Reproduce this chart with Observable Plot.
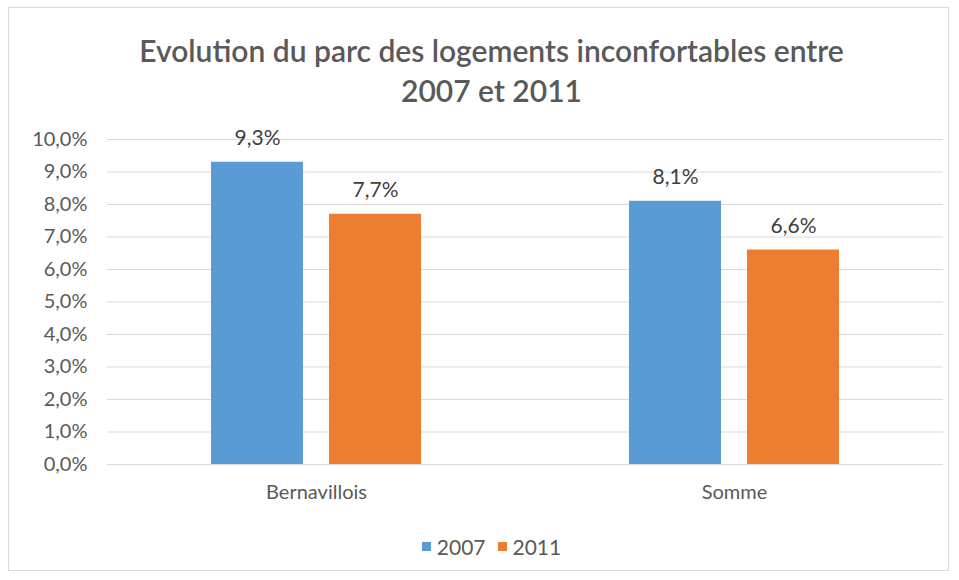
<!DOCTYPE html>
<html>
<head>
<meta charset="utf-8">
<script src="https://cdn.jsdelivr.net/npm/d3@7"></script>
<script src="https://cdn.jsdelivr.net/npm/@observablehq/plot@0.6"></script>
<style>
  html, body { margin: 0; padding: 0; background: #fff; }
  #frame { position: absolute; left: 8px; top: 7px; width: 941px; height: 564px; border: 1px solid #d9d9d9; box-sizing: border-box; }
  #title { position: absolute; left: 12px; top: 30px; width: 959px; text-align: center; font-family: Lato, "Open Sans", sans-serif; font-size: 30px; line-height: 40px; color: #595959; font-weight: 600; }
  #chart { position: absolute; left: 0; top: 115px; }
  #legend { position: absolute; left: 12px; top: 534px; width: 959px; display: flex; justify-content: center; gap: 12px; font-family: Lato, "Open Sans", sans-serif; font-size: 21px; color: #595959; }
  .item { display: flex; align-items: center; gap: 6px; }
  .sw { width: 9px; height: 9px; display: inline-block; }
</style>
</head>
<body>
<div id="frame"></div>
<div id="title">Evolution du parc des logements inconfortables entre<br>2007 et 2011</div>
<div id="chart"></div>
<div id="legend"></div>
<script>
const zones = ["Bernavillois", "Somme"];
const years = ["2007", "2011"];
const values2007 = [9.3, 8.1];
const values2011 = [7.7, 6.6];
const yTicks = [0, 1, 2, 3, 4, 5, 6, 7, 8, 9, 10];
const colors = ["#5b9bd5", "#ed7d31"];

const seriesValues = [values2007, values2011];
const data = [];
zones.forEach((z, i) => years.forEach((y, j) => data.push({zone: z, year: y, value: seriesValues[j][i]})));

const fmt = v => v.toFixed(1).replace(".", ",") + "%";

const chart = Plot.plot({
  width: 959,
  height: 400,
  marginLeft: 107,
  marginRight: 16,
  marginTop: 24,
  marginBottom: 51,
  style: {fontFamily: "Lato, 'Open Sans', sans-serif", color: "#595959", background: "transparent"},
  fx: {domain: zones, padding: 0, label: null, axis: null},
  x: {domain: years, paddingInner: 0.22, paddingOuter: 0.88, axis: null},
  y: {domain: [0, 10], axis: null},
  color: {domain: years, range: colors},
  marks: [
    Plot.ruleY(yTicks, {y: d => d, stroke: "#d9d9d9", strokeWidth: 1}),
    Plot.axisY({ticks: yTicks, tickSize: 0, tickPadding: 20, tickFormat: fmt, fontSize: 20, fill: "#595959", label: null}),
    Plot.barY(data, {fx: "zone", x: "year", y: "value", fill: "year"}),
    Plot.text(data, {fx: "zone", x: "year", y: "value", text: d => fmt(d.value), dy: -24, fontSize: 21, fill: "#404040"}),
    Plot.axisFx({anchor: "bottom", tickSize: 0, tickPadding: 20, fontSize: 20, fill: "#595959", label: null})
  ]
});
document.getElementById("chart").appendChild(chart);

const legend = document.getElementById("legend");
years.forEach((y, i) => {
  const it = document.createElement("span");
  it.className = "item";
  it.innerHTML = `<span class="sw" style="background:${colors[i]}"></span><span>${y}</span>`;
  legend.appendChild(it);
});
</script>
</body>
</html>
